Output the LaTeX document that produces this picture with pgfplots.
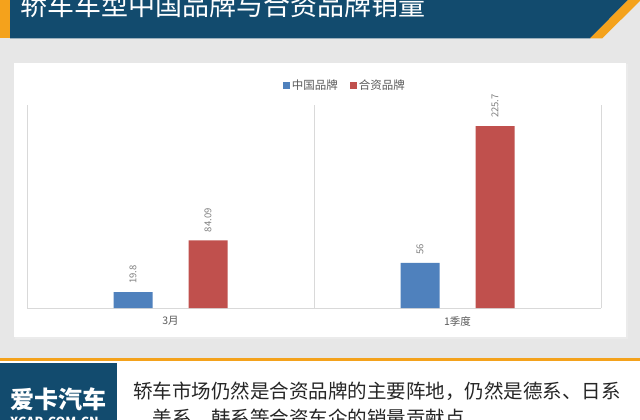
\documentclass[border=0pt]{standalone}
\usepackage{fontspec}
\setmainfont{Noto Sans CJK SC}
\usepackage{pgfplots}
\pgfplotsset{compat=1.18}

\definecolor{banner}{HTML}{124B6E}
\definecolor{orangeA}{HTML}{F4A21C}
\definecolor{bgGray}{HTML}{E7E7E7}
\definecolor{barBlue}{HTML}{4F81BD}
\definecolor{barRed}{HTML}{C0504D}
\definecolor{lineGray}{HTML}{D9D9D9}
\definecolor{txtGray}{HTML}{595959}

\begin{document}
\begin{tikzpicture}
\useasboundingbox (0,0) rectangle (640pt,-420pt);
\clip (0,0) rectangle (640pt,-420pt);

% page decoration, in pixel units with y going down
\begin{scope}[x=1pt,y=-1pt]
  \fill[bgGray] (0,0) rectangle (640,359);
  \fill[white] (0,359) rectangle (640,420);
  \fill[orangeA] (0,358) rectangle (640,361);
  \fill[banner] (10,0) -- (628,0) -- (590,38.5) -- (10,38.5) -- cycle;
  \fill[orangeA] (0,0) rectangle (10,38.5);
  \fill[orangeA] (628,0) -- (641,0) -- (602,38.5) -- (590,38.5) -- cycle;
  \fill[black!8] (15,64) rectangle (627.5,338.5);
  \fill[white] (14,63) rectangle (626,337);
  \node[anchor=base west, text=white, inner sep=0,
        font=\fontsize{27}{30}\selectfont] at (20,16) {轿车车型中国品牌与合资品牌销量};
  \fill[banner] (0,363) rectangle (117,420);
  \node[anchor=base west, text=white, inner sep=0,
        font=\bfseries\fontsize{24}{26}\selectfont] at (10,408) {爱卡汽车};
  \node[anchor=base west, text=white, inner sep=0,
        font=\bfseries\fontsize{12.5}{14}\selectfont] at (10,426) {XCAR.COM.CN};
  \node[anchor=base west, text=black!85, inner sep=0,
        font=\fontsize{19.5}{22}\selectfont] at (133,398.5) {轿车市场仍然是合资品牌的主要阵地，仍然是德系、日系};
  \node[anchor=base west, text=black!85, inner sep=0,
        font=\fontsize{19.5}{22}\selectfont] at (133,425.5) {、美系、韩系等合资车企的销量贡献点};
\end{scope}

\begin{axis}[
    at={(27pt,-308pt)}, anchor=south west,
    scale only axis,
    width=574pt, height=203pt,
    xmin=-0.5, xmax=1.5,
    ymin=0, ymax=252,
    ybar=36pt, bar width=39pt,
    axis x line*=bottom, axis y line=none,
    x axis line style={draw=lineGray, -},
    xtick={0,1}, xticklabels={3月,1季度},
    major tick length=0pt,
    ytick=\empty,
    extra x ticks={-0.5,0.5,1.5}, extra x tick labels={},
    extra x tick style={grid=major, major grid style={draw=lineGray, thin}},
    xticklabel style={font=\fontsize{10.5}{12}\selectfont, text=txtGray, yshift=-5pt},
    nodes near coords,
    every node near coord/.append style={rotate=90, anchor=west,
        font=\fontsize{9.5}{11}\selectfont, text=black!50, inner xsep=8pt, inner ysep=0pt},
    /pgf/number format/assume math mode=true,
    legend style={at={(0.554,1.098)}, anchor=center, draw=none, fill=none,
        legend columns=2, font=\fontsize{11.5}{13}\selectfont, text=txtGray,
        /tikz/every even column/.append style={column sep=10pt}},
    legend image code/.code={\fill[#1] (0pt,-3.5pt) rectangle (7pt,3.5pt);},
]
\addplot[fill=barBlue, draw=none] coordinates {(0,19.8) (1,56)};
\addlegendentry{中国品牌}
\addplot[fill=barRed, draw=none] coordinates {(0,84.09) (1,225.7)};
\addlegendentry{合资品牌}
\end{axis}
\end{tikzpicture}
\end{document}
